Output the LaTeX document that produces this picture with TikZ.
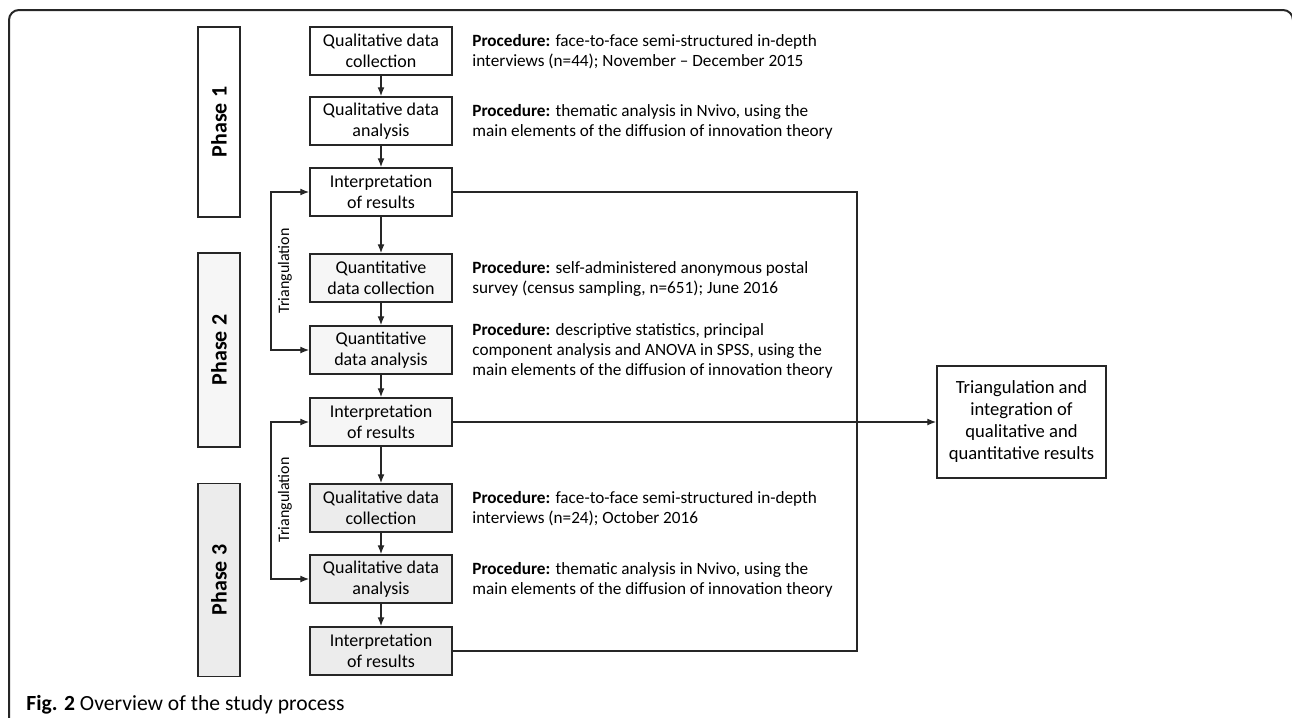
\documentclass[tikz,border=0pt]{standalone}
\usepackage{fontspec}
\setmainfont{Carlito}
\usetikzlibrary{arrows.meta}
\definecolor{phtwo}{gray}{0.965}
\definecolor{phthree}{gray}{0.925}
\definecolor{edge}{gray}{0.15}
\tikzset{
  >={Latex[length=4.5pt,width=3.5pt]},
  stepbox/.style={draw=edge, line width=0.75pt, minimum width=71pt, minimum height=24pt,
    align=center, inner sep=1pt, font=\fontsize{9}{10.5}\selectfont},
  phasebox/.style={draw=edge, line width=0.75pt, rotate=90, minimum height=21pt,
    inner sep=1pt, font=\fontsize{11}{13}\selectfont\bfseries},
  proc/.style={anchor=west, align=left, inner sep=0pt, font=\fontsize{8.6}{10}\selectfont},
  tri/.style={rotate=90, inner sep=0pt, font=\fontsize{8}{9.5}\selectfont},
  link/.style={draw=edge, line width=0.65pt}
}
\begin{document}
\begin{tikzpicture}[x=0.5pt,y=-0.5pt]
\useasboundingbox (0,0) rectangle (1292,718);
% frame and caption
\draw[edge, line width=1pt, rounded corners=5pt] (9,730) -- (9,10) -- (1293,10) -- (1293,40);
\node[anchor=base west, inner sep=0pt, font=\fontsize{10.8}{13}\selectfont] (cap) at (26,710)
  {\textbf{Fig. 2} Overview of the study process};

% phases
\node[phasebox, minimum width=95pt] (p1) at (219,122) {Phase 1};
\node[phasebox, minimum width=97pt, fill=phtwo] (p2) at (219,350) {Phase 2};
\node[phasebox, minimum width=96.5pt, fill=phthree] (p3) at (219,580) {Phase 3};

% steps
\node[stepbox] (c1) at (381,51) {Qualitative data\\collection};
\node[stepbox] (a1) at (381,121) {Qualitative data\\analysis};
\node[stepbox] (i1) at (381,192) {Interpretation\\of results};
\node[stepbox, fill=phtwo] (c2) at (381,278) {Quantitative\\data collection};
\node[stepbox, fill=phtwo] (a2) at (381,350) {Quantitative\\data analysis};
\node[stepbox, fill=phtwo] (i2) at (381,422) {Interpretation\\of results};
\node[stepbox, fill=phthree] (c3) at (381,508) {Qualitative data\\collection};
\node[stepbox, fill=phthree] (a3) at (381,579) {Qualitative data\\analysis};
\node[stepbox, fill=phthree] (i3) at (381,651) {Interpretation\\of results};
\node[stepbox, minimum width=84.5pt, minimum height=56pt, font=\fontsize{9.3}{11}\selectfont]
  (fin) at (1021.5,422) {Triangulation and\\integration of\\qualitative and\\quantitative results};

% procedures
\node[proc] (t1) at (472,52) {\textbf{Procedure:} face-to-face semi-structured in-depth\\interviews (n=44); November -- December 2015};
\node[proc] (t2) at (472,122) {\textbf{Procedure:} thematic analysis in Nvivo, using the\\main elements of the diffusion of innovation theory};
\node[proc] (t3) at (472,279) {\textbf{Procedure:} self-administered anonymous postal\\survey (census sampling, n=651); June 2016};
\node[proc] (t4) at (472,351) {\textbf{Procedure:} descriptive statistics, principal\\component analysis and ANOVA in SPSS, using the\\main elements of the diffusion of innovation theory};
\node[proc] (t5) at (472,509) {\textbf{Procedure:} face-to-face semi-structured in-depth\\interviews (n=24); October 2016};
\node[proc] (t6) at (472,580) {\textbf{Procedure:} thematic analysis in Nvivo, using the\\main elements of the diffusion of innovation theory};

% arrows down the column
\foreach \a/\b in {c1/a1,a1/i1,i1/c2,c2/a2,a2/i2,i2/c3,c3/a3,a3/i3}
  \draw[link, ->] (\a) -- (\b);

% triangulation loops
\coordinate (lp) at (271,0);
\draw[link, <->] (i1.west) -| (lp |- a2.west) -- (a2.west);
\draw[link, <->] (i2.west) -| (lp |- a3.west) -- (a3.west);
\node[tri] (tr1) at (285,271) {Triangulation};
\node[tri] (tr2) at (285,500) {Triangulation};

% collecting line on the right
\coordinate (rc) at (857,0);
\draw[link] (i1.east) -| (rc |- i3.east) -- (i3.east);
\draw[link, ->] (i2.east) -- (fin.west);
\end{tikzpicture}
\end{document}
